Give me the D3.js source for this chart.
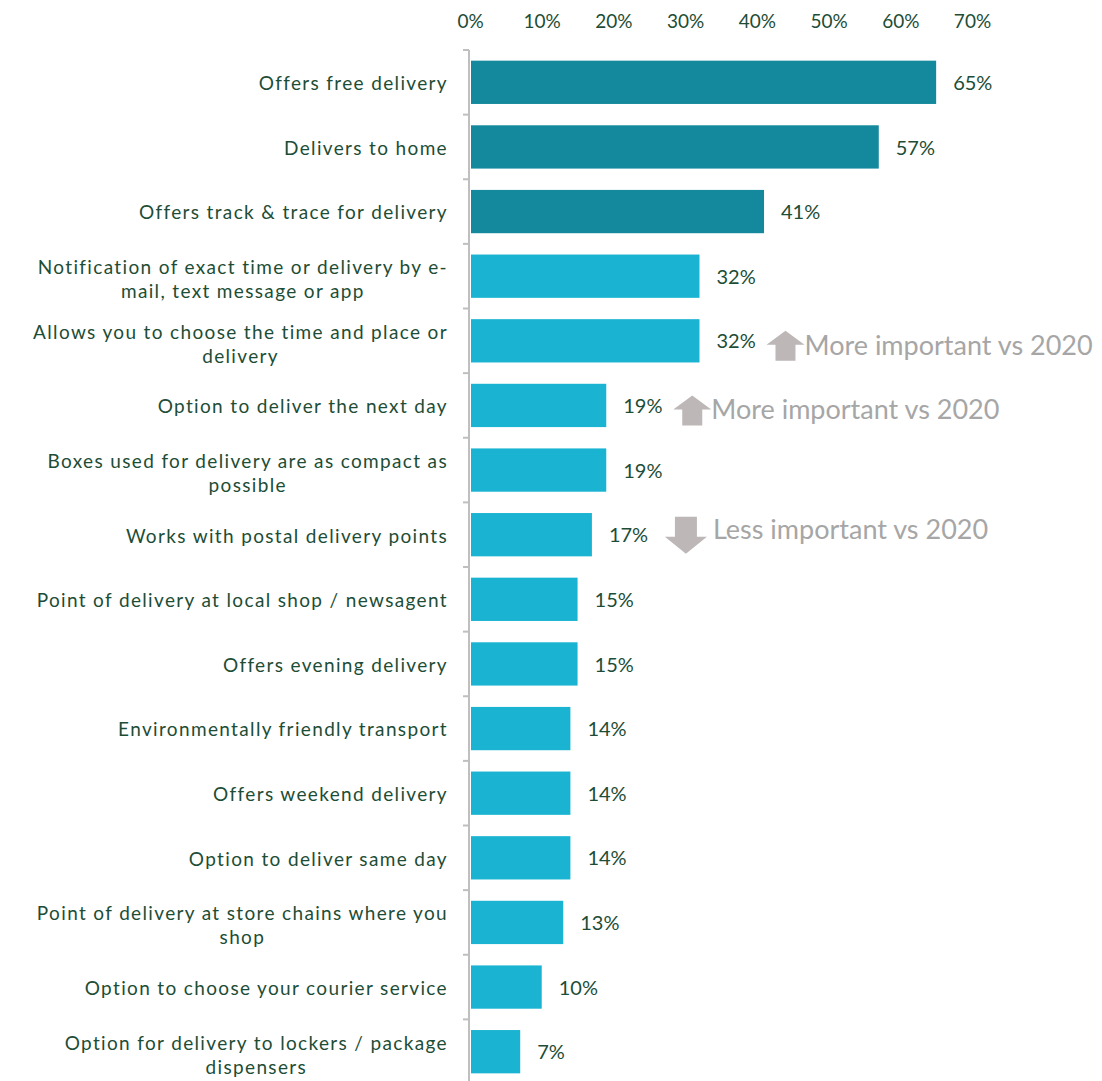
<!DOCTYPE html>
<html>
<head>
<meta charset="utf-8">
<script src="https://cdn.jsdelivr.net/npm/d3@7"></script>
<style>
  html, body { margin: 0; padding: 0; background: #ffffff; }
  svg { display: block; }
  text { font-family: Lato, "Open Sans", sans-serif; }
</style>
</head>
<body>
<svg id="chart" width="1102" height="1081"></svg>
<script>
// Delivery features, in display order (top to bottom); "\n" marks a line break
const categories = [
  "Offers free delivery",
  "Delivers to home",
  "Offers track & trace for delivery",
  "Notification of exact time or delivery by e-\nmail, text message or app",
  "Allows you to choose the time and place or\ndelivery",
  "Option to deliver the next day",
  "Boxes used for delivery are as compact as\npossible",
  "Works with postal delivery points",
  "Point of delivery at local shop / newsagent",
  "Offers evening delivery",
  "Environmentally friendly transport",
  "Offers weekend delivery",
  "Option to deliver same day",
  "Point of delivery at store chains where you\nshop",
  "Option to choose your courier service",
  "Option for delivery to lockers / package\ndispensers"
];
const values = [65, 57, 41, 32, 32, 19, 19, 17, 15, 15, 14, 14, 14, 13, 10, 7];
// top three features are highlighted
const highlighted = [true, true, true, false, false, false, false, false, false, false, false, false, false, false, false, false];
const tickValues = [0, 10, 20, 30, 40, 50, 60, 70];
// change vs 2020 notes
const notes = [
  { category: "Allows you to choose the time and place or\ndelivery", dir: "up", text: "More important vs 2020" },
  { category: "Option to deliver the next day", dir: "up", text: "More important vs 2020" },
  { category: "Works with postal delivery points", dir: "down", text: "Less important vs 2020" }
];

const TEXT = "#1d4d36";
const DARK = "#14889c";
const LIGHT = "#1ab4d2";
const AXIS = "#bfbfbf";
const NOTE = "#a6a6a6";
const ARROW = "#bdb7b7";

const svg = d3.select("#chart");
const x = d3.scaleLinear().domain([0, 70]).range([470, 972]);
const y = d3.scaleBand().domain(categories).range([50, 1084]).paddingInner(0.33).paddingOuter(0.165);
const step = y.step();

// top percentage axis
const xAxis = d3.axisTop(x).tickValues(tickValues).tickFormat(d => d + "%").tickSize(0).tickPadding(0);
const gx = svg.append("g").attr("transform", "translate(0,28)").call(xAxis);
gx.select(".domain").remove();
gx.selectAll("text").attr("fill", TEXT).style("font-size", "19px").style("font-family", "Lato, sans-serif")
  .attr("dy", "0");

// vertical category axis with ticks at band boundaries
const axisX = 469;
svg.append("line").attr("x1", axisX).attr("x2", axisX).attr("y1", 50).attr("y2", 1081)
  .attr("stroke", AXIS).attr("stroke-width", 2);
d3.range(categories.length + 1).forEach(i => {
  const yy = 50 + i * step;
  svg.append("line").attr("x1", axisX - 6).attr("x2", axisX).attr("y1", yy).attr("y2", yy)
    .attr("stroke", AXIS).attr("stroke-width", 2);
});

// bars
svg.append("g").selectAll("rect").data(categories).join("rect")
  .attr("x", x(0) + 1)
  .attr("y", d => y(d))
  .attr("width", (d, i) => x(values[i]) - x(0) - 1)
  .attr("height", y.bandwidth())
  .attr("fill", (d, i) => highlighted[i] ? DARK : LIGHT);

// value labels
svg.append("g").selectAll("text").data(categories).join("text")
  .attr("x", (d, i) => x(values[i]) + 17)
  .attr("y", d => y(d) + y.bandwidth() / 2)
  .attr("dy", "0.38em")
  .attr("fill", TEXT)
  .style("font-size", "20px")
  .text((d, i) => values[i] + "%");

// category labels: a centred text block whose right edge sits by the axis
const labelRight = 448;
const lineH = 24;
categories.forEach(c => {
  const lines = c.split("\n");
  const g = svg.append("text").attr("fill", TEXT).style("font-size", "19px")
    .style("letter-spacing", "1.35px").attr("text-anchor", "middle");
  const cy = y(c) + y.bandwidth() / 2 + (lines.length > 1 ? 3 : 1);
  const top = cy - (lines.length - 1) * lineH / 2;
  const spans = lines.map((l, i) => g.append("tspan").attr("y", top + i * lineH).attr("dy", "0.36em").text(l));
  const w = d3.max(spans, s => s.node().getComputedTextLength());
  spans.forEach(s => s.attr("x", labelRight - w / 2));
});

// change notes with block arrows
notes.forEach(n => {
  const i = categories.indexOf(n.category);
  const cy = y(n.category) + y.bandwidth() / 2;
  const ax = x(values[i]) + (n.dir === "up" ? 67 : 73);
  const g = svg.append("g");
  if (n.dir === "up") {
    const top = cy - 10, aw = 38, sw = 20;
    const pts = [[ax, top + 14], [ax + aw / 2, top], [ax + aw, top + 14], [ax + aw / 2 + sw / 2, top + 14],
      [ax + aw / 2 + sw / 2, top + 30], [ax + aw / 2 - sw / 2, top + 30], [ax + aw / 2 - sw / 2, top + 14]];
    g.append("polygon").attr("points", pts.map(p => p.join(",")).join(" ")).attr("fill", ARROW);
    g.append("text").attr("x", ax + aw).attr("y", cy + 4).attr("dy", "0.36em")
      .attr("fill", NOTE).style("font-size", "27px").text(n.text);
  } else {
    const top = cy - 18, aw = 42, sw = 22;
    const pts = [[ax + aw / 2 - sw / 2, top], [ax + aw / 2 + sw / 2, top], [ax + aw / 2 + sw / 2, top + 20],
      [ax + aw, top + 20], [ax + aw / 2, top + 37], [ax, top + 20], [ax + aw / 2 - sw / 2, top + 20]];
    g.append("polygon").attr("points", pts.map(p => p.join(",")).join(" ")).attr("fill", ARROW);
    g.append("text").attr("x", ax + aw + 6).attr("y", cy - 5).attr("dy", "0.36em")
      .attr("fill", NOTE).style("font-size", "27px").text(n.text);
  }
});
</script>
</body>
</html>
